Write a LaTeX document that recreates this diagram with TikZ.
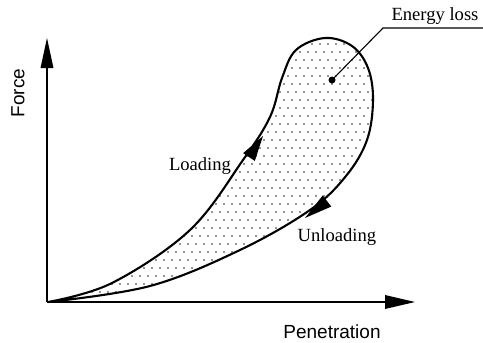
\documentclass[tikz,border=0pt]{standalone}
\usepackage{fontspec}
\setmainfont{Liberation Serif}
\setsansfont{Liberation Sans}
\usetikzlibrary{calc}

% closed loading/unloading loop, traced from the origin
\def\hysteresis{plot[smooth,tension=0.6] coordinates {
  (48,302) (112,283) (190,230) (243,160) (270,117) (282,78) (296,50)
  (325,38) (352,46) (368,68) (373,100) (367,140) (346,176) (310,210)
  (240,250) (150,286) (48,302)} -- cycle}

% filled triangular head: tip, centre of base, half width
\newcommand{\headtri}[3]{%
  \fill ($(#1)$) -- ($(#2)!#3!90:(#1)$) -- ($(#2)!#3!-90:(#1)$) -- cycle;}

\tikzset{
  axisline/.style={line width=2.6pt},
  curveline/.style={line width=2.1pt, line join=round},
  serlabel/.style={font=\fontsize{18.6}{20}\selectfont, inner sep=0pt},
  sanslabel/.style={font=\sffamily\fontsize{19}{21}\selectfont, inner sep=0pt},
}

\begin{document}
\begin{tikzpicture}[x=1pt,y=-1pt]
\useasboundingbox (0,0) rectangle (483,343);

% stippled area inside the loop
\begin{scope}
  \clip \hysteresis;
  \foreach \r in {0,...,34}{
    \pgfmathsetmacro{\yy}{36+8*\r}
    \pgfmathsetmacro{\xo}{mod(\r,2)*4}
    \foreach \c in {0,...,42}{
      \fill[black!85] (44+\xo+8*\c,\yy) circle (0.85);
    }
  }
\end{scope}

% axes
\coordinate (O) at (47,302);
\coordinate (ytip) at (47,38);
\coordinate (ybase) at (47,68);
\coordinate (xtip) at (415,302);
\coordinate (xbase) at (385,302);
\draw[axisline] (O) -- (ybase);
\draw[axisline] (O) -- (xbase);
\headtri{ytip}{ybase}{6.5pt}
\headtri{xtip}{xbase}{7pt}

% loop outline
\draw[curveline] \hysteresis;

% direction heads on the two branches
\coordinate (ltip) at (263,136);
\coordinate (lbase) at (249,157);
\coordinate (utip) at (305,218);
\coordinate (ubase) at (327,201);
\headtri{ltip}{lbase}{7pt}
\headtri{utip}{ubase}{7pt}

% axis titles
\node[sanslabel, rotate=90] (force) at (18,93) {Force};
\node[sanslabel] (pen) at (332,332) {Penetration};

% branch labels
\node[serlabel] (load) at (200,166) {Loading};
\node[serlabel] (unload) at (337,237) {Unloading};

% energy loss callout
\node[serlabel] (eloss) at (435,16) {Energy loss};
\coordinate (kink) at (383,28);
\coordinate (lend) at (483,28);
\coordinate (spot) at (332,80);
\fill (spot) circle (3.5);
\draw[line width=1.1pt] (spot) -- (kink) -- (lend);
\end{tikzpicture}
\end{document}
